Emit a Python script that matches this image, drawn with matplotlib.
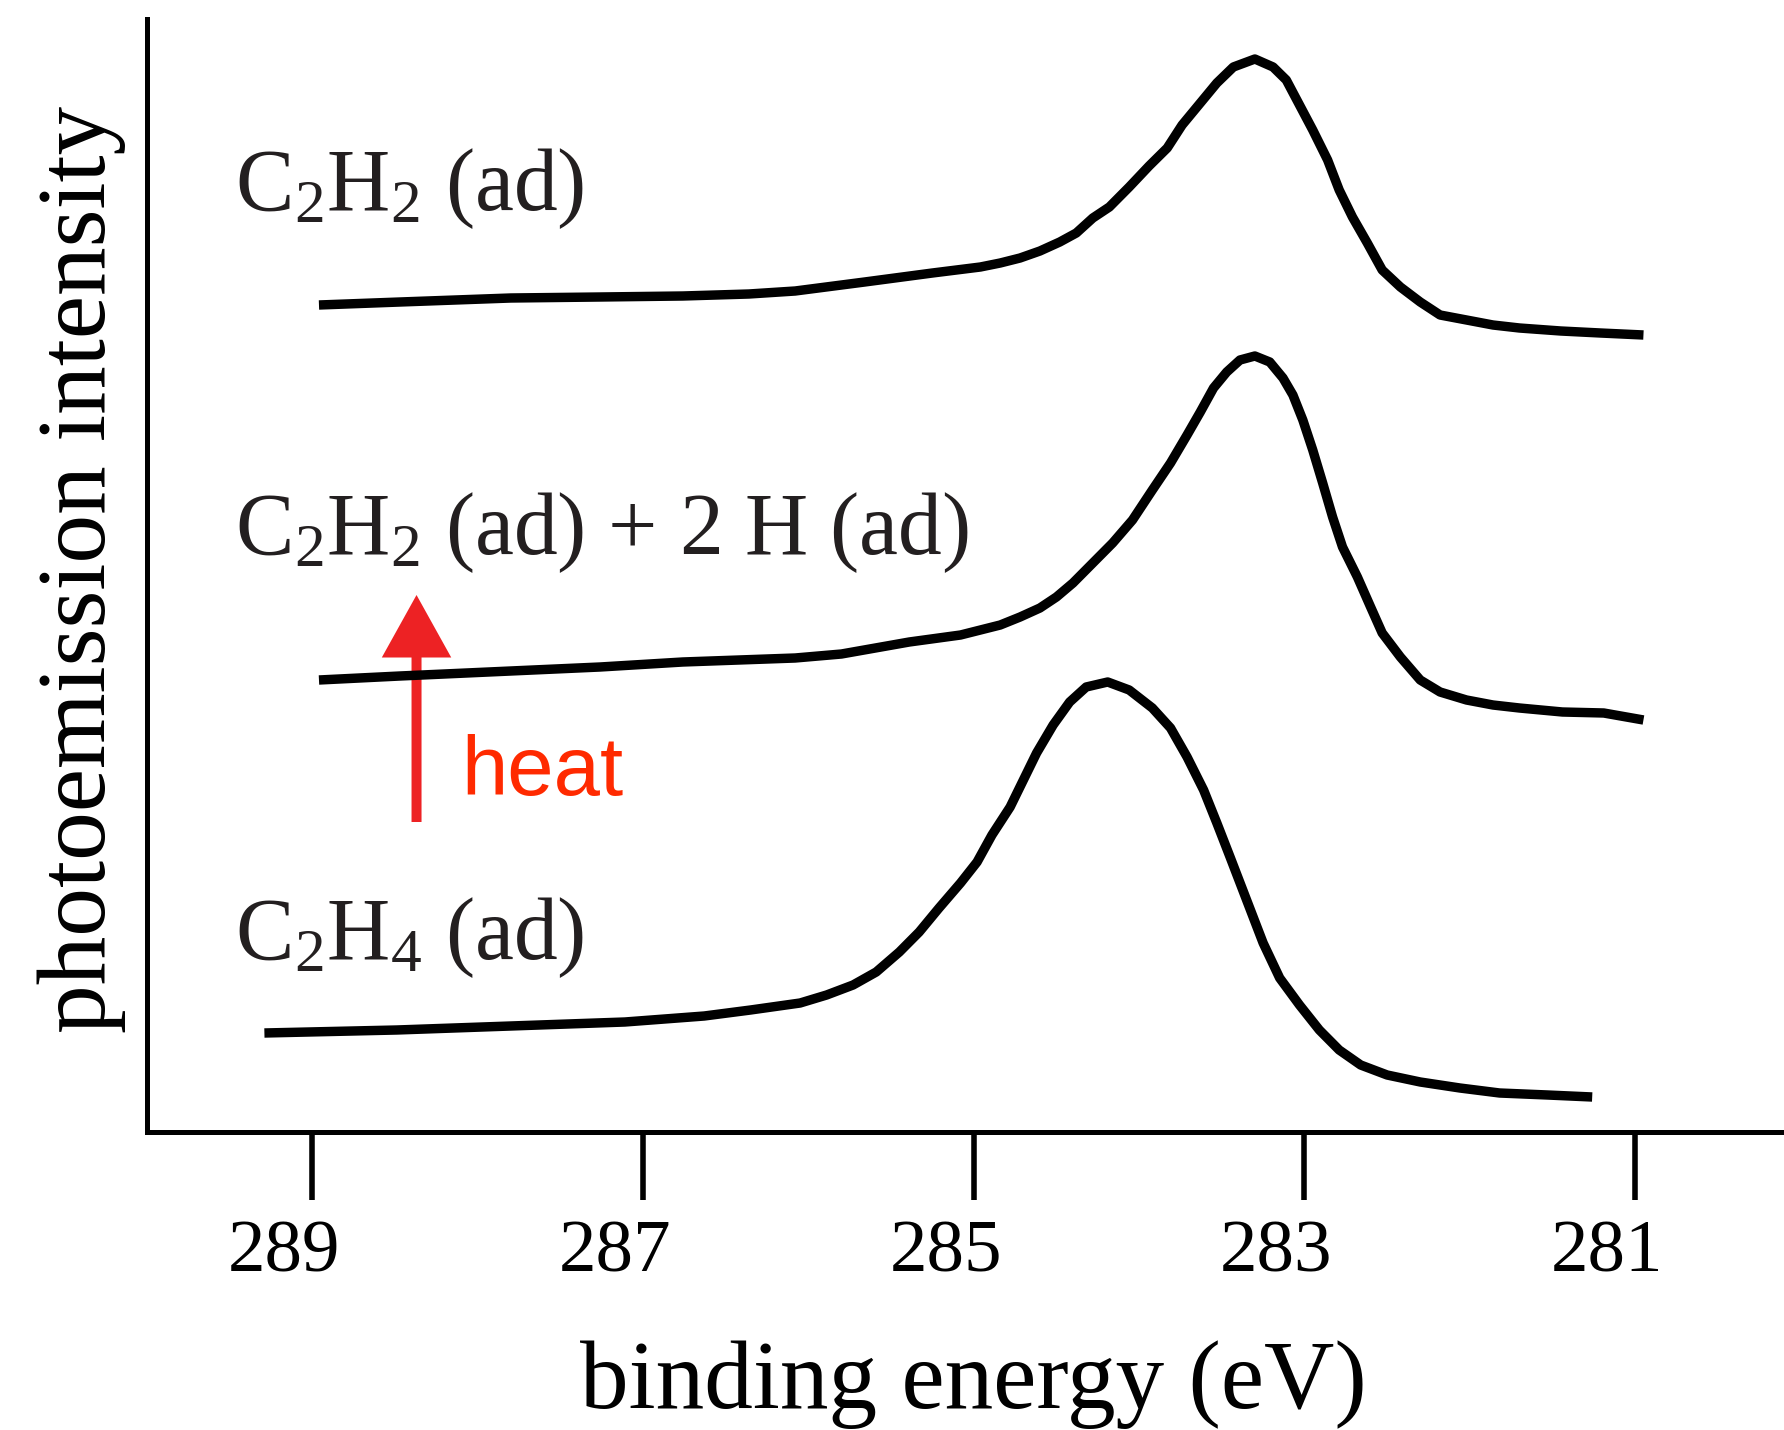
import numpy as np
import matplotlib
matplotlib.use("Agg")
import matplotlib.pyplot as plt
from matplotlib.patches import FancyArrowPatch
from matplotlib.transforms import ScaledTranslation

plt.rcParams["font.family"] = ["Liberation Serif", "DejaVu Serif"]
plt.rcParams["mathtext.fontset"] = "custom"
plt.rcParams["mathtext.rm"] = "Liberation Serif"

# ---- data (binding energy in eV, intensity in arbitrary units) ----
c2h2_energy = [288.96, 288.47, 287.80, 287.26, 286.76, 286.36, 286.08, 285.66, 285.25, 284.96,
               284.84, 284.72, 284.60, 284.48, 284.38, 284.28, 284.18, 284.06, 283.94, 283.83,
               283.74, 283.63, 283.53, 283.43, 283.30, 283.19, 283.11, 283.03, 282.95, 282.86,
               282.79, 282.71, 282.62, 282.53, 282.42, 282.30, 282.18, 282.02, 281.86, 281.70,
               281.45, 281.21, 280.95]
c2h2_intensity = [8.27, 8.30, 8.34, 8.35, 8.36, 8.38, 8.41, 8.50, 8.59, 8.65,
                  8.69, 8.74, 8.81, 8.90, 8.99, 9.14, 9.25, 9.45, 9.66, 9.84,
                  10.07, 10.29, 10.49, 10.65, 10.73, 10.65, 10.52, 10.27, 10.02, 9.72,
                  9.42, 9.15, 8.89, 8.62, 8.45, 8.30, 8.17, 8.12, 8.07, 8.04,
                  8.01, 7.99, 7.97]

c2h2_h_energy = [288.96, 288.47, 287.80, 287.26, 286.76, 286.08, 285.80, 285.39, 285.08, 284.84,
                 284.72, 284.60, 284.50, 284.40, 284.28, 284.16, 284.04, 283.92, 283.81, 283.71,
                 283.63, 283.55, 283.47, 283.39, 283.30, 283.21, 283.13, 283.07, 283.01, 282.95,
                 282.89, 282.83, 282.77, 282.68, 282.60, 282.53, 282.42, 282.30, 282.18, 282.02,
                 281.86, 281.70, 281.44, 281.19, 280.95]
c2h2_h_intensity = [4.52, 4.56, 4.61, 4.65, 4.70, 4.74, 4.78, 4.90, 4.97, 5.07,
                    5.15, 5.24, 5.35, 5.49, 5.69, 5.89, 6.12, 6.42, 6.69, 6.97,
                    7.20, 7.44, 7.60, 7.72, 7.76, 7.70, 7.54, 7.37, 7.12, 6.82,
                    6.49, 6.15, 5.85, 5.55, 5.25, 4.99, 4.75, 4.52, 4.40, 4.32,
                    4.27, 4.24, 4.20, 4.19, 4.12]

c2h4_energy = [289.29, 288.49, 287.80, 287.11, 286.63, 286.35, 286.05, 285.89, 285.73, 285.59,
               285.45, 285.33, 285.21, 285.08, 284.98, 284.89, 284.78, 284.70, 284.62, 284.52,
               284.42, 284.32, 284.19, 284.06, 283.92, 283.81, 283.71, 283.61, 283.53, 283.45,
               283.35, 283.25, 283.15, 283.03, 282.91, 282.79, 282.66, 282.50, 282.30, 282.06,
               281.82, 281.53, 281.26]
c2h4_intensity = [0.99, 1.02, 1.06, 1.10, 1.16, 1.22, 1.29, 1.37, 1.47, 1.60,
                  1.80, 2.00, 2.24, 2.49, 2.70, 2.97, 3.25, 3.52, 3.79, 4.07,
                  4.30, 4.45, 4.50, 4.42, 4.24, 4.04, 3.75, 3.42, 3.09, 2.75,
                  2.32, 1.89, 1.54, 1.27, 1.02, 0.82, 0.67, 0.57, 0.50, 0.44,
                  0.39, 0.37, 0.35]

tick_values = [289, 287, 285, 283, 281]

# ---- figure ----
fig = plt.figure(figsize=(17.84, 14.30), dpi=100)
ax = fig.add_axes([147 / 1784, 298 / 1430, 1637 / 1784, 1113 / 1430])

line_kw = dict(color="black", lw=6.8, solid_capstyle="butt", solid_joinstyle="round")
ax.plot(c2h2_energy, c2h2_intensity, **line_kw)
ax.plot(c2h2_h_energy, c2h2_h_intensity, **line_kw)
ax.plot(c2h4_energy, c2h4_intensity, **line_kw)

ax.set_xlim(290.0, 280.1)
ax.set_ylim(0, 11.13)

for side in ["top", "right"]:
    ax.spines[side].set_visible(False)
for side in ["left", "bottom"]:
    ax.spines[side].set_linewidth(3.6)

ax.set_yticks([])
ax.set_xticks(tick_values)
ax.set_xticklabels([str(t) for t in tick_values])
ax.tick_params(axis="x", direction="out", length=49, width=4, labelsize=54, pad=14)
for lab in ax.get_xticklabels():
    lab.set_transform(lab.get_transform() + ScaledTranslation(-0.28, 0, fig.dpi_scale_trans))

# axis titles
fig.text(973 / 1784, 22 / 1430, "binding energy (eV)", fontsize=70,
         ha="center", va="baseline")
fig.text(105 / 1784, (1430 - 569) / 1430, "photoemission intensity", fontsize=70,
         rotation=90, rotation_mode="anchor", ha="center", va="baseline")

# species labels
label_size = 63
ax.text(289.47, 9.22, r"$\mathregular{C_2H_2}$ (ad)", fontsize=label_size,
        ha="left", va="baseline", color="#231f20")
ax.text(289.47, 5.78, r"$\mathregular{C_2H_2}$ (ad) + 2 H (ad)", fontsize=label_size,
        ha="left", va="baseline", color="#231f20")
ax.text(289.47, 1.73, r"$\mathregular{C_2H_4}$ (ad)", fontsize=label_size,
        ha="left", va="baseline", color="#231f20")

# heat arrow
arrow = FancyArrowPatch((288.37, 3.10), (288.37, 5.37),
                        arrowstyle="simple,head_length=45,head_width=50,tail_width=7.2",
                        mutation_scale=1, color="#ed2224", lw=0,
                        shrinkA=0, shrinkB=0)
ax.add_patch(arrow)
ax.text(288.10, 3.37, "heat", fontsize=60, color="#ff2a00",
        family=["Liberation Sans", "DejaVu Sans"], ha="left", va="baseline")

fig.savefig("out.png", dpi=100)
